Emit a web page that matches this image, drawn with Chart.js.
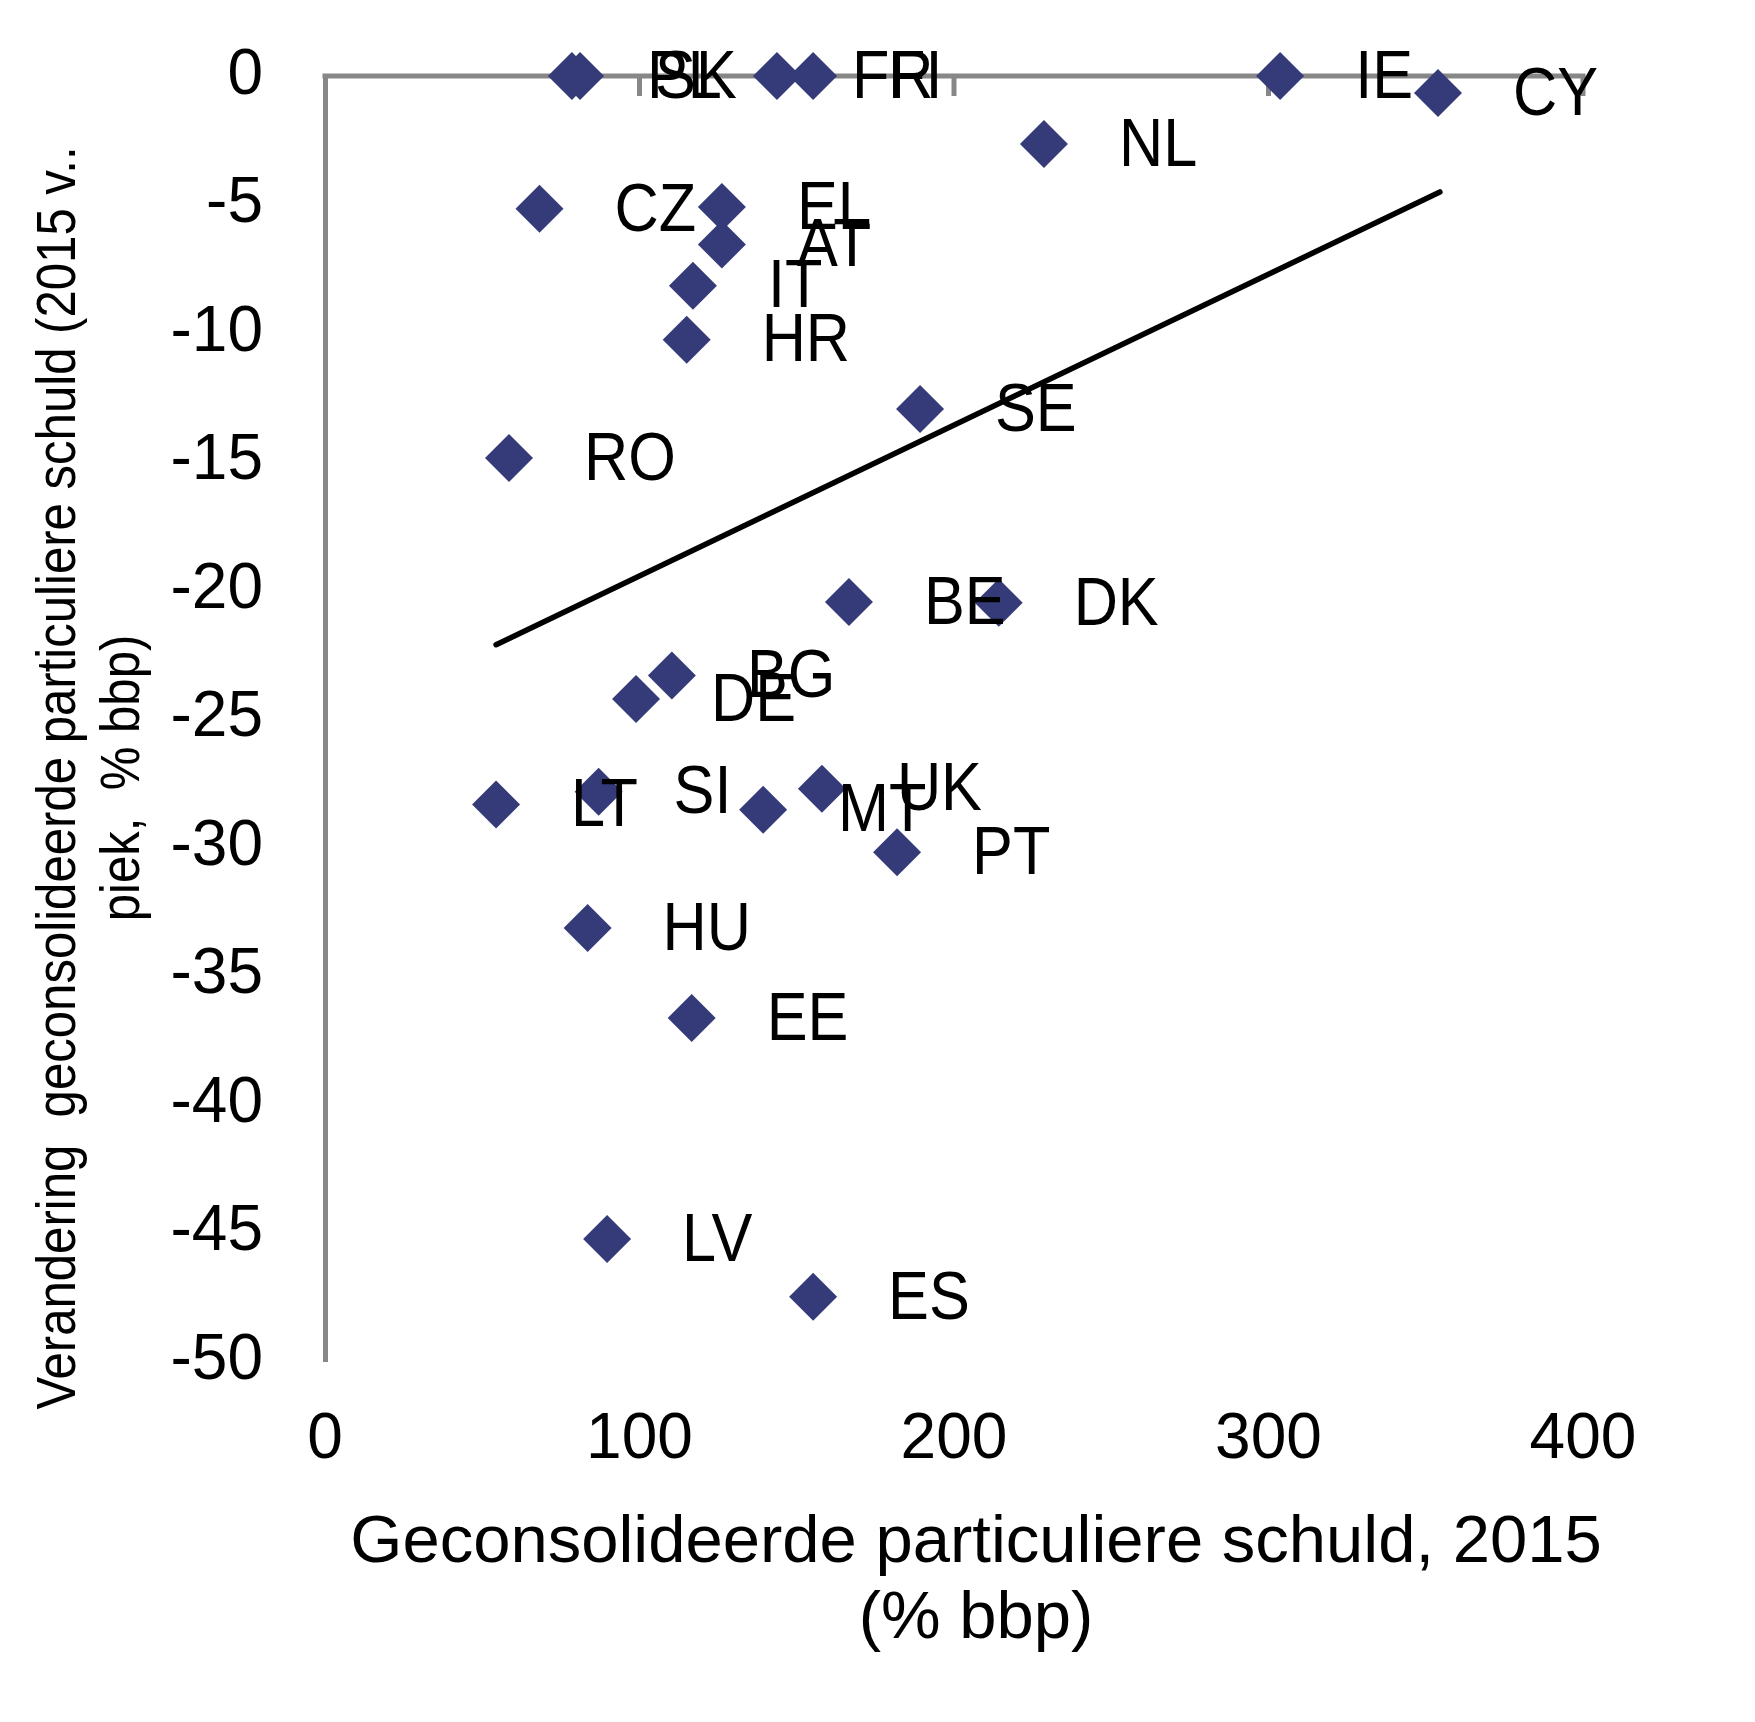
<!DOCTYPE html>
<html>
<head>
<meta charset="utf-8">
<script src="https://cdn.jsdelivr.net/npm/chart.js@4.4.1/dist/chart.umd.min.js"></script>
<style>
html,body{margin:0;padding:0;background:#ffffff;}
canvas{display:block;}
</style>
</head>
<body>
<canvas id="c" width="1755" height="1722" style="width:1755px;height:1722px"></canvas>
<script>
// ---- data ----
const countries = ['PL','SK','FR','FI','IE','CY','NL','CZ','EL','AT','IT','HR','SE','RO','BE','DK','BG','DE','SI','LT','MT','UK','PT','HU','EE','LV','ES'];
const debt2015  = [78.5,81.1,143.7,155.2,303.7,353.9,228.6,68.2,126.2,126.2,117.0,115.0,189.2,58.5,166.6,214.2,110.3,98.9,87.0,54.4,139.3,158.0,181.9,83.5,116.6,89.7,155.2];
const debtChange = [0,0,0,0,0,-0.66,-2.65,-5.17,-5.1,-6.56,-8.16,-10.26,-12.96,-14.86,-20.47,-20.5,-23.33,-24.24,-27.85,-28.35,-28.55,-27.73,-30.2,-33.15,-36.65,-45.25,-47.5];
const trendX = [54.4, 354.5];
const trendY = [-22.13, -4.51];
const xTickValues = [0, 100, 200, 300, 400];
const yTickValues = [0, -5, -10, -15, -20, -25, -30, -35, -40, -45, -50];
const xTitleLines = ['Geconsolideerde particuliere schuld, 2015', '(% bbp)'];
const yTitleLines = ['Verandering  geconsolideerde particuliere schuld (2015 v..', 'piek,  % bbp)'];

const FONT = '"Liberation Sans", Arial, sans-serif';
const AXIS_GREY = '#878787';
const MARK = '#353b79';

const scatterPoints = countries.map((c, i) => ({ x: debt2015[i], y: debtChange[i] }));
const trendPoints = trendX.map((x, i) => ({ x: x, y: trendY[i] }));

const zeroLinePlugin = {
  id: 'zeroLine',
  beforeDatasetsDraw(chart) {
    const { ctx, scales: { x, y } } = chart;
    const y0 = y.getPixelForValue(0);
    ctx.save();
    ctx.strokeStyle = AXIS_GREY;
    ctx.lineWidth = 5;
    ctx.beginPath();
    ctx.moveTo(x.getPixelForValue(xTickValues[0]) - 2.5, y0);
    ctx.lineTo(x.getPixelForValue(xTickValues[xTickValues.length - 1]) + 2.5, y0);
    ctx.stroke();
    xTickValues.slice(1).forEach(v => {
      const px = x.getPixelForValue(v);
      ctx.beginPath();
      ctx.moveTo(px, y0);
      ctx.lineTo(px, y0 + 20);
      ctx.stroke();
    });
    ctx.restore();
  }
};

const pointLabelPlugin = {
  id: 'pointLabels',
  afterDatasetsDraw(chart) {
    const ctx = chart.ctx;
    const meta = chart.getDatasetMeta(1);
    ctx.save();
    ctx.font = '68px ' + FONT;
    ctx.fillStyle = '#000000';
    ctx.textAlign = 'left';
    ctx.textBaseline = 'middle';
    meta.data.forEach((pt, i) => {
      ctx.save();
      ctx.translate(pt.x + 75, pt.y + 3);
      ctx.scale(0.9, 1);
      ctx.fillText(countries[i], 0, 0);
      ctx.restore();
    });
    ctx.restore();
  }
};

const titlesPlugin = {
  id: 'axisTitles',
  afterDraw(chart) {
    const { ctx, chartArea } = chart;
    ctx.save();
    ctx.fillStyle = '#000000';
    ctx.textAlign = 'center';
    ctx.textBaseline = 'middle';
    // x title
    ctx.font = '67px ' + FONT;
    const cx = (chartArea.left + chartArea.right) / 2 + 22;
    ctx.fillText(xTitleLines[0], cx, chartArea.bottom + 183);
    ctx.fillText(xTitleLines[1], cx, chartArea.bottom + 259);
    // y title (rotated, condensed)
    ctx.font = '56px ' + FONT;
    const cy = chartArea.top + 702;
    [60, 124].forEach((xx, i) => {
      ctx.save();
      ctx.translate(xx, cy);
      ctx.rotate(-Math.PI / 2);
      ctx.scale(0.877, 1);
      ctx.fillText(yTitleLines[i], 0, 0);
      ctx.restore();
    });
    ctx.restore();
  }
};

new Chart(document.getElementById('c'), {
  type: 'scatter',
  data: {
    datasets: [
      {
        type: 'line',
        label: 'Trend',
        data: trendPoints,
        borderColor: '#000000',
        borderWidth: 5.5,
        pointRadius: 0,
        fill: false,
        showLine: true,
        borderCapStyle: 'round',
        order: 2
      },
      {
        label: 'Landen',
        data: scatterPoints,
        pointStyle: 'rectRot',
        pointRadius: 24,
        pointHoverRadius: 24,
        backgroundColor: MARK,
        borderColor: MARK,
        borderWidth: 0,
        clip: false,
        order: 1
      }
    ]
  },
  options: {
    responsive: false,
    animation: false,
    devicePixelRatio: 1,
    events: [],
    layout: { padding: { top: 76, right: 172, left: 0, bottom: 0 } },
    plugins: { legend: { display: false }, tooltip: { enabled: false } },
    scales: {
      x: {
        type: 'linear',
        position: 'bottom',
        min: xTickValues[0],
        max: xTickValues[xTickValues.length - 1],
        afterBuildTicks(s) { s.ticks = xTickValues.map(v => ({ value: v })); },
        ticks: { font: { family: FONT, size: 64 }, color: '#000000', padding: 41, maxRotation: 0, autoSkip: false },
        grid: { display: false, drawTicks: false },
        border: { display: false },
        afterFit(s) { s.height = 361; }
      },
      y: {
        type: 'linear',
        position: 'left',
        min: yTickValues[yTickValues.length - 1],
        max: yTickValues[0],
        afterBuildTicks(s) { s.ticks = yTickValues.map(v => ({ value: v })); },
        ticks: { font: { family: FONT, size: 64 }, color: '#000000', padding: 62, autoSkip: false },
        grid: { display: false, drawTicks: false },
        border: { display: true, color: AXIS_GREY, width: 5 },
        afterFit(s) { s.width = 325; s.paddingTop = 0; s.paddingBottom = 0; }
      }
    }
  },
  plugins: [zeroLinePlugin, pointLabelPlugin, titlesPlugin]
});
</script>
</body>
</html>
